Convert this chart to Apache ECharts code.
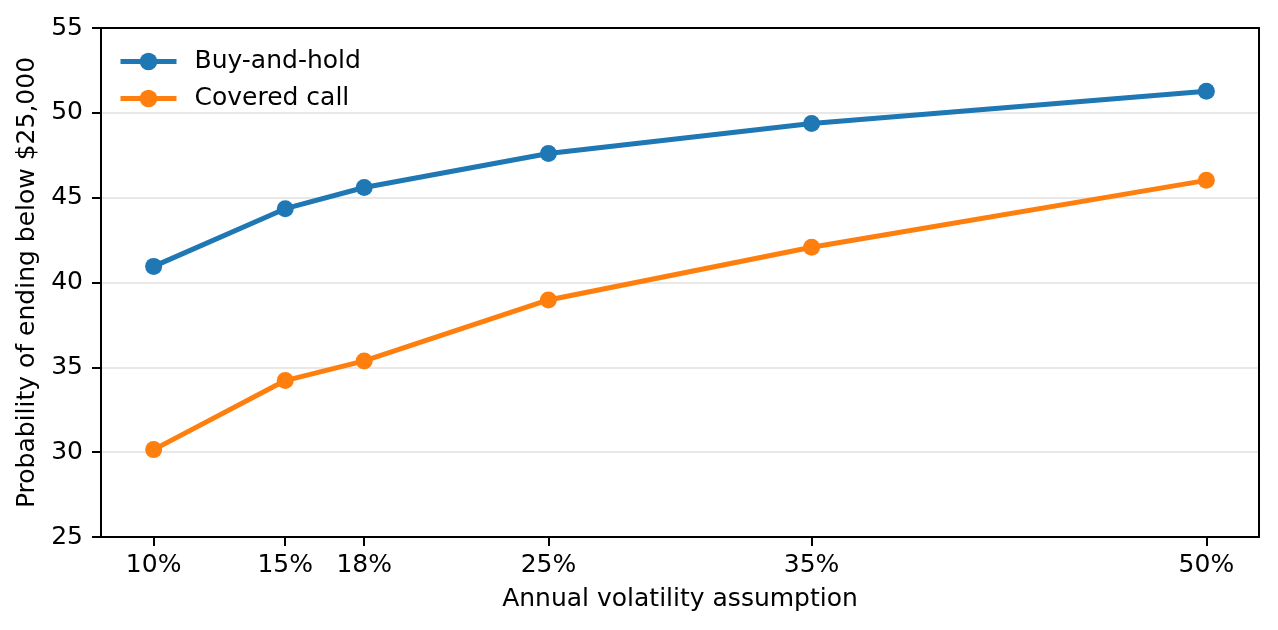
<!DOCTYPE html>
<html>
<head>
<meta charset="utf-8">
<script src="https://cdn.jsdelivr.net/npm/echarts@6/dist/echarts.min.js"></script>
<style>
  html, body { margin: 0; padding: 0; background: #fff; }
  #chart { width: 1278px; height: 630px; }
</style>
</head>
<body>
<div id="chart"></div>
<script>
// volatility assumptions (%)
var vols = [10, 15, 18, 25, 35, 50];
// probability of ending below $25,000
var buyHold = [40.95, 44.35, 45.6, 47.6, 49.37, 51.27];
var coveredCall = [30.15, 34.22, 35.38, 38.97, 42.08, 46.02];
var yTicks = [25, 30, 35, 40, 45, 50, 55];

function pairs(xs, ys) {
  return xs.map(function (x, i) { return [x, ys[i]]; });
}

var chart = echarts.init(document.getElementById('chart'), null, { renderer: 'canvas' });

var font = 'DejaVu Sans';
var fs = 25;

var option = {
  backgroundColor: '#ffffff',
  animation: false,
  textStyle: { fontFamily: font },
  grid: {
    left: 101, right: 19, top: 28, bottom: 93
  },
  legend: {
    left: 113, top: 44,
    orient: 'vertical',
    itemWidth: 56, itemHeight: 22, itemGap: 12,
    lineStyle: { width: 5 },
    textStyle: { fontFamily: font, fontSize: fs, color: '#000', padding: [0, 0, 0, 13] },
    data: ['Buy-and-hold', 'Covered call']
  },
  xAxis: [{
    type: 'value',
    min: 8, max: 52,
    name: 'Annual volatility assumption',
    nameLocation: 'middle',
    nameGap: 50,
    nameTextStyle: { fontFamily: font, fontSize: fs, color: '#000' },
    axisLine: { lineStyle: { color: '#000', width: 2 } },
    axisTick: { show: true, length: 9, lineStyle: { color: '#000', width: 2 }, customValues: vols },
    axisLabel: {
      fontFamily: font, fontSize: fs, color: '#000', margin: 16,
      customValues: vols,
      formatter: function (v) { return v + '%'; }
    },
    splitLine: { show: false }
  }, {
    // top frame line
    type: 'value',
    position: 'top',
    min: 8, max: 52,
    axisLine: { show: true, onZero: false, lineStyle: { color: '#000', width: 2 } },
    axisTick: { show: false },
    axisLabel: { show: false },
    splitLine: { show: false }
  }],
  yAxis: [{
    type: 'value',
    min: yTicks[0], max: yTicks[yTicks.length - 1], interval: 5,
    name: 'Probability of ending below $25,000',
    nameLocation: 'middle',
    nameGap: 57,
    nameTextStyle: { fontFamily: font, fontSize: fs, color: '#000' },
    axisLine: { show: true, onZero: false, lineStyle: { color: '#000', width: 2 } },
    axisTick: { show: true, length: 9, lineStyle: { color: '#000', width: 2 } },
    axisLabel: { fontFamily: font, fontSize: fs, color: '#000', margin: 18 },
    splitLine: { show: true, showMinLine: false, showMaxLine: false, lineStyle: { color: '#e8e8e8', width: 2 } }
  }, {
    // right frame line
    type: 'value',
    position: 'right',
    min: yTicks[0], max: yTicks[yTicks.length - 1], interval: 5,
    axisLine: { show: true, onZero: false, lineStyle: { color: '#000', width: 2 } },
    axisTick: { show: false },
    axisLabel: { show: false },
    splitLine: { show: false }
  }],
  series: [{
    name: 'Buy-and-hold',
    type: 'line',
    data: pairs(vols, buyHold),
    color: '#1f77b4',
    symbol: 'circle',
    symbolSize: 17,
    lineStyle: { width: 5 }
  }, {
    name: 'Covered call',
    type: 'line',
    data: pairs(vols, coveredCall),
    color: '#ff7f0e',
    symbol: 'circle',
    symbolSize: 17,
    lineStyle: { width: 5 }
  }]
};

chart.setOption(option);
</script>
</body>
</html>
